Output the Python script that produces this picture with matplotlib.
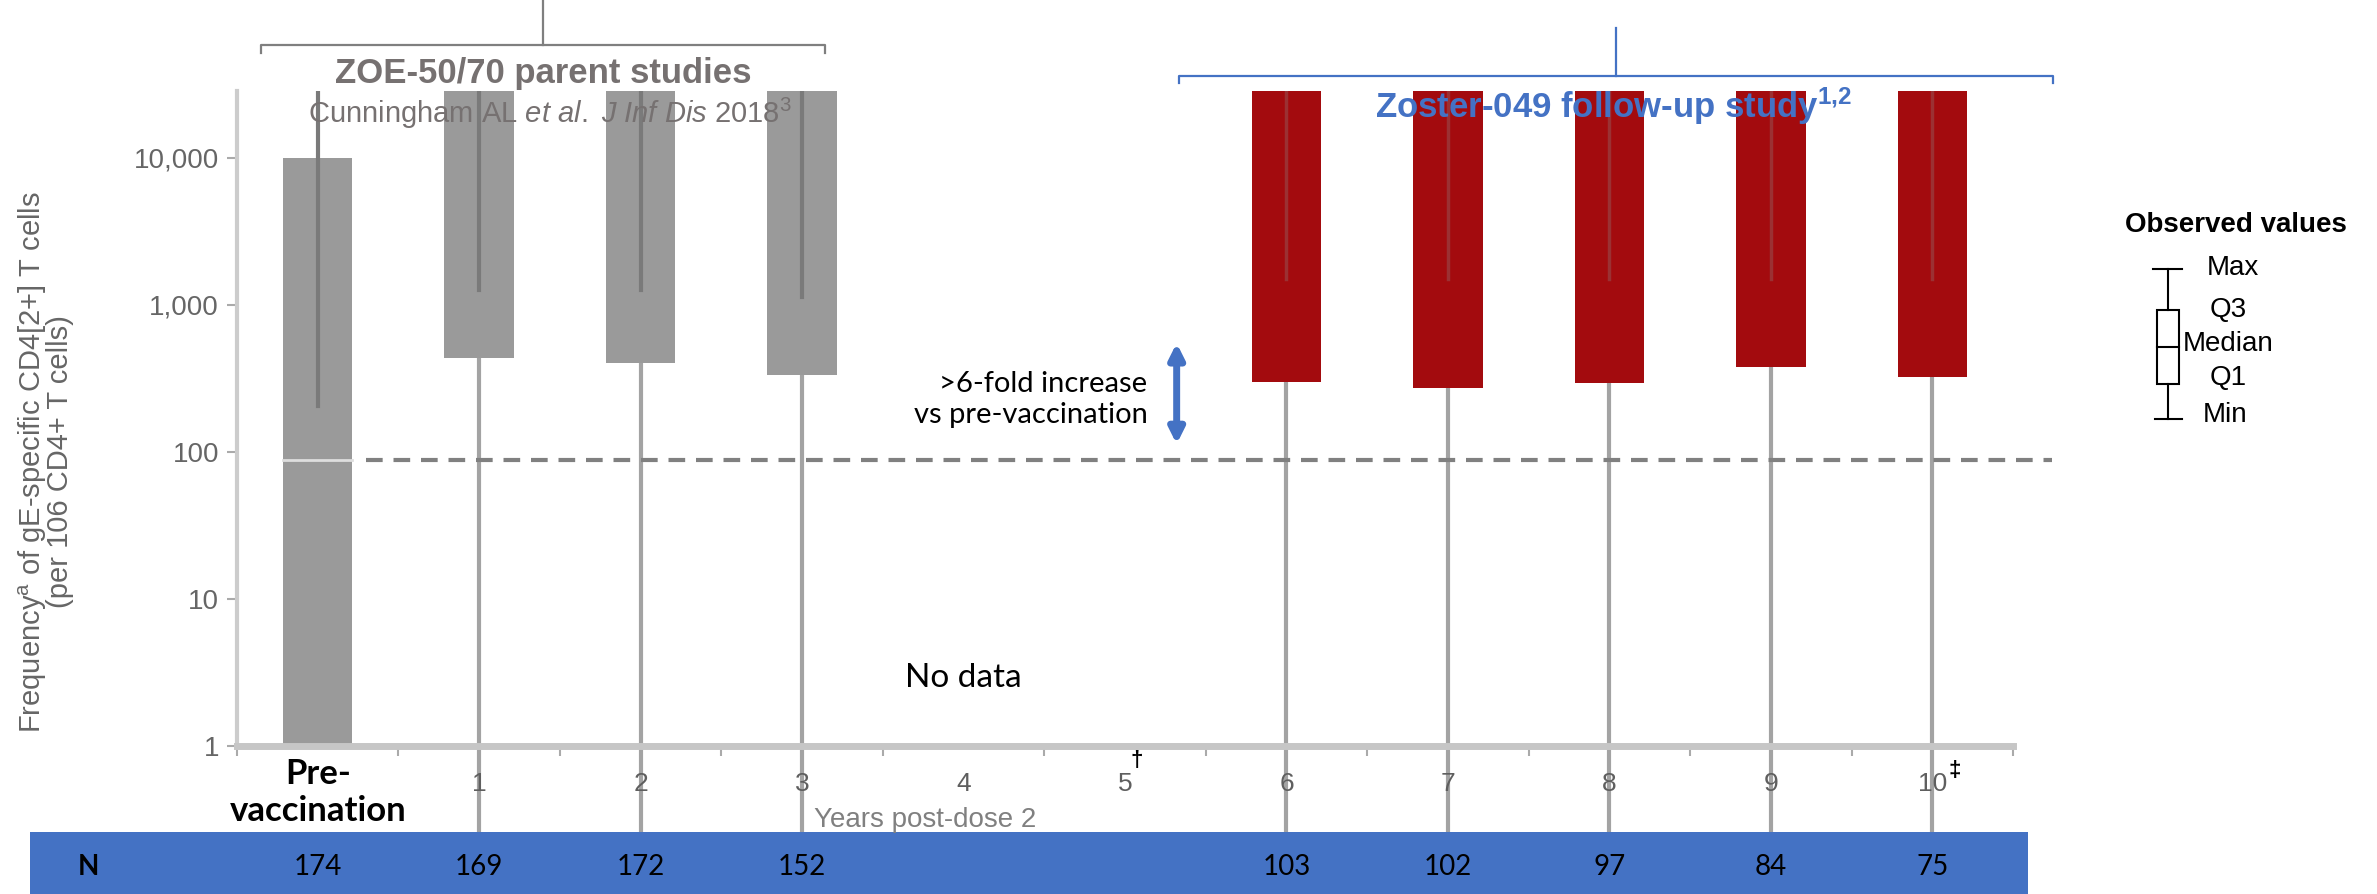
import matplotlib
matplotlib.use('agg')
import matplotlib.pyplot as plt
import matplotlib.transforms as mtransforms
from matplotlib.patches import Rectangle
from matplotlib.lines import Line2D
import numpy as np

plt.rcParams['font.family'] = ['Liberation Sans', 'DejaVu Sans']
plt.rcParams['mathtext.fontset'] = 'custom'
plt.rcParams['mathtext.rm'] = 'Liberation Sans'
plt.rcParams['mathtext.it'] = 'Liberation Sans:italic'
plt.rcParams['mathtext.bf'] = 'Liberation Sans:bold'

CAL = ['Lato', 'DejaVu Sans']   # stand-in for the Calibri texts

# data (values per 10^6 CD4+ T cells)
cats = ['Pre-\nvaccination', '1', '2', '3', '4', '5', '6', '7', '8', '9', '10']
nan = np.nan
q1 = [1, 436, 403, 334, nan, nan, 299, 272, 295, 380, 323]
q3 = [10000, 40000, 40000, 40000, nan, nan, 40000, 40000, 40000, 40000, 40000]
med = [88, nan, nan, nan, nan, nan, nan, nan, nan, nan, nan]
wmax = [1e5, 1e5, 1e5, 1e5, nan, nan, 1e5, 1e5, 1e5, 1e5, 1e5]
inner_end = [204, 1260, 1260, 1130, nan, nan, 1500, 1500, 1500, 1500, 1500]
wmin = [1, 0.26, 0.26, 0.26, nan, nan, 0.26, 0.26, 0.26, 0.26, 0.26]
study = ['p', 'p', 'p', 'p', '', '', 'f', 'f', 'f', 'f', 'f']
n_subj = ['174', '169', '172', '152', '', '', '103', '102', '97', '84', '75']
ref_level = 88

W, H = 2377, 894
fig = plt.figure(figsize=(W / 100, H / 100), dpi=100)
ax = fig.add_axes([237 / W, 1 - 746 / H, (2013 - 237) / W, (746 - 91) / H])

def fx(px):
    return px / W

def fy(py):
    return 1 - py / H

gray_box = '#9a9a9a'
red_box = '#a30b0e'
box_w = 0.43
x = np.arange(len(cats))

for i in x:
    if np.isnan(q1[i]):
        continue
    col = gray_box if study[i] == 'p' else red_box
    # lower whisker (runs through the axis down to the N row)
    ax.plot([i, i], [wmin[i], q1[i]], color='#a3a3a3', lw=3, clip_on=False, zorder=1)
    ax.bar(i, q3[i] - q1[i], bottom=q1[i], width=box_w, color=col, zorder=2)
    if study[i] == 'p':
        ax.plot([i, i], [inner_end[i], wmax[i]], color='#7a7a7a', lw=3, zorder=3)
    else:
        ax.plot([i, i], [inner_end[i], wmax[i]], color='#8a8a8a', lw=2.5, alpha=0.3, zorder=3)
    if not np.isnan(med[i]):
        ax.plot([i - box_w / 2, i + box_w / 2], [med[i], med[i]], color='#dedede', lw=2, zorder=3)

# reference level
ax.plot([0.30, 10.74], [ref_level, ref_level], color='#808080', lw=3, dashes=(4, 2.6),
        clip_on=False, zorder=4)

ax.set_yscale('log')
ax.set_ylim(1, 28500)
ax.set_xlim(-0.5, 10.5)

for s in ['top', 'right']:
    ax.spines[s].set_visible(False)
ax.spines['bottom'].set_color('#c6c6c6')
ax.spines['bottom'].set_linewidth(5)
ax.spines['left'].set_color('#cccccc')
ax.spines['left'].set_linewidth(3)

ax.set_yticks([1, 10, 100, 1000, 10000])
ax.set_yticklabels(['1', '10', '100', '1,000', '10,000'])
ax.yaxis.set_minor_locator(matplotlib.ticker.NullLocator())
ax.tick_params(axis='y', length=7, width=1.5, color='#aaaaaa', labelsize=20,
               labelcolor='#666666', pad=6)

ax.set_xticks(x)
ax.set_xticklabels([''] + cats[1:])
ax.set_xticks(np.arange(-0.5, 10.6, 1), minor=True)
ax.tick_params(axis='x', which='major', length=0, labelsize=19, labelcolor='#5f5f5f', pad=19)
ax.tick_params(axis='x', which='minor', length=7, width=1.5, color='#aaaaaa')

trans = mtransforms.blended_transform_factory(ax.transData, fig.transFigure)
ax.text(0, fy(758), cats[0], transform=trans, ha='center', va='top', fontsize=25,
        fontweight='bold', family=CAL, linespacing=1.2, clip_on=False)
ax.text(5.07, fy(761), '\u2020', transform=trans, ha='center', va='center', fontsize=16,
        fontweight='bold', color='black', clip_on=False)
ax.text(10.14, fy(771), '\u2021', transform=trans, ha='center', va='center', fontsize=16,
        fontweight='bold', color='black', clip_on=False)

fig.text(fx(45), fy(462),
         'Frequency$^{\\mathrm{a}}$ of gE-specific CD4[2+] T cells\n(per 106 CD4+ T cells)',
         rotation=90, ha='center', va='center', multialignment='center', fontsize=21,
         color='#666666', linespacing=0.85)
fig.text(fx(925), fy(820), 'Years post-dose 2', ha='center', va='center', fontsize=20,
         color='#808080')

# annotations in the plot
ax.text(4, 2.9, 'No data', ha='center', va='center', fontsize=24, family=CAL)
ax.annotate('', xy=(5.32, 113), xytext=(5.32, 550),
            arrowprops=dict(arrowstyle='<|-|>', color='#4472C4', lw=5, mutation_scale=22,
                            shrinkA=0, shrinkB=0))
ax.text(5.14, 226, '>6-fold increase\nvs pre-vaccination', ha='right', va='center',
        fontsize=21, family=CAL, linespacing=1.25)

# study brackets
gcol = '#7f7f7f'
bcol = '#4472C4'
fig.add_artist(Line2D([fx(261), fx(261), fx(825), fx(825)], [fy(53), fy(45), fy(45), fy(53)],
                      color=gcol, lw=1.6))
fig.add_artist(Line2D([fx(543), fx(543)], [fy(0), fy(45)], color=gcol, lw=1.6))
fig.add_artist(Line2D([fx(1179), fx(1179), fx(2053), fx(2053)], [fy(83), fy(76), fy(76), fy(83)],
                      color=bcol, lw=1.6))
fig.add_artist(Line2D([fx(1616), fx(1616)], [fy(28), fy(76)], color=bcol, lw=1.6))

fig.text(fx(543), fy(73), 'ZOE-50/70 parent studies', ha='center', va='center', fontsize=25,
         fontweight='bold', color='#767171', zorder=10)
fig.text(fx(550), fy(113), 'Cunningham AL $\\mathit{et\\ al.\\ J\\ Inf\\ Dis}$ 2018$^{3}$',
         ha='center', va='center', fontsize=21, color='#767171', zorder=10)
fig.text(fx(1614), fy(106), 'Zoster-049 follow-up study$^{\\mathbf{1{,}2}}$', ha='center',
         va='center', fontsize=25, fontweight='bold', color=bcol, zorder=10)

# legend glyph
lk = 'black'
fig.text(fx(2236), fy(225), 'Observed values', ha='center', va='center', fontsize=20,
         fontweight='bold')
cx = 2168
fig.add_artist(Line2D([fx(2153), fx(2182)], [fy(269), fy(269)], color=lk, lw=1.5))
fig.add_artist(Line2D([fx(cx), fx(cx)], [fy(269), fy(310)], color=lk, lw=1.5))
fig.add_artist(Rectangle((fx(2157), fy(384)), fx(2179) - fx(2157), fy(310) - fy(384),
                         fill=False, edgecolor=lk, lw=1.5))
fig.add_artist(Line2D([fx(2157), fx(2179)], [fy(347), fy(347)], color=lk, lw=1.5))
fig.add_artist(Line2D([fx(cx), fx(cx)], [fy(384), fy(419)], color=lk, lw=1.5))
fig.add_artist(Line2D([fx(2155), fx(2182)], [fy(419), fy(419)], color=lk, lw=1.5))
for lab, lx, ly in [('Max', 2207, 268), ('Q3', 2210, 310), ('Median', 2183, 344),
                    ('Q1', 2210, 378), ('Min', 2203, 415)]:
    fig.text(fx(lx), fy(ly), lab, ha='left', va='center', fontsize=20)

# N row (drawn inside the axes so that the counts sit above the band)
ax.add_patch(Rectangle((fx(30), 0), fx(2028) - fx(30), fy(832), transform=fig.transFigure,
                       facecolor='#4472C4', lw=0, clip_on=False, zorder=5))
fig.text(fx(88), fy(867), 'N', ha='center', va='center', fontsize=20, fontweight='bold',
         family=CAL, zorder=6)
for i in x:
    ax.text(i, fy(867), n_subj[i], transform=trans, ha='center', va='center', fontsize=20,
            family=CAL, clip_on=False, zorder=6)

fig.savefig('out.png', dpi=100)
